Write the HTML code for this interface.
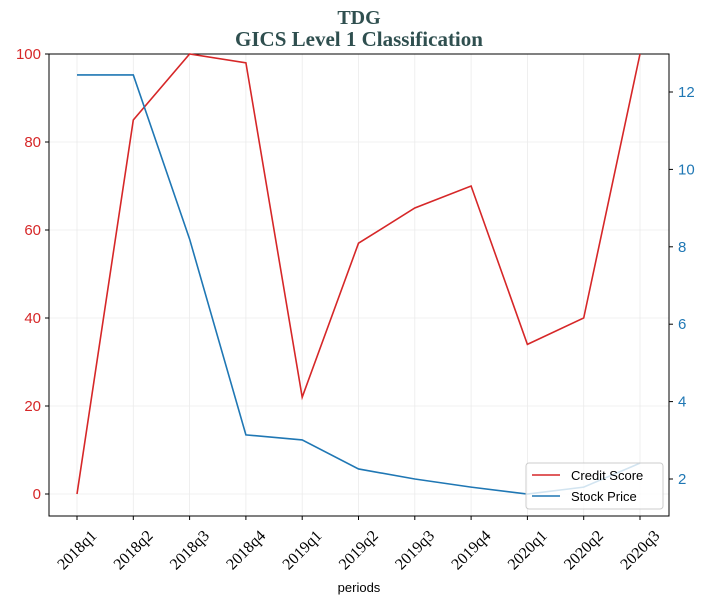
<!DOCTYPE html>
<html><head><meta charset="utf-8"><style>
body{margin:0;background:#fff;}
svg{display:block;font-family:"Liberation Sans",sans-serif;}
</style></head><body>
<svg id="c" width="707" height="605"></svg>
<script>
const categories=["2018q1","2018q2","2018q3","2018q4","2019q1","2019q2","2019q3","2019q4","2020q1","2020q2","2020q3"];
const creditScore=[0,85,100,98,22,57,65,70,34,40,100];
const stockPrice=[12.44,12.44,8.2,3.14,3.01,2.26,2.0,1.79,1.61,1.79,2.41];
const leftTicks=[0,20,40,60,80,100];
const rightTicks=[2,4,6,8,10,12];
const NS="http://www.w3.org/2000/svg";
const svg=document.getElementById('c');
const L=49,R=669,T=54,B=516;
const x=i=>77+i*(640-77)/(categories.length-1);
const yl=v=>494-v*4.4;
const yr=v=>479-(v-2)*38.7;
function el(tag,attrs,text){const e=document.createElementNS(NS,tag);for(const k in attrs)e.setAttribute(k,attrs[k]);if(text!==undefined)e.textContent=text;svg.appendChild(e);return e;}
let t;
t=el('text',{x:359,y:24,'text-anchor':'middle','font-family':'Liberation Serif,serif','font-weight':'bold','font-size':20,fill:'#2f4f4f'},'TDG');


t=el('text',{x:359,y:46,'text-anchor':'middle','font-family':'Liberation Serif,serif','font-weight':'bold','font-size':21,fill:'#2f4f4f'},'GICS Level 1 Classification');


categories.forEach((c,i)=>{const g=el('line',{x1:x(i),x2:x(i),y1:T,y2:B,stroke:'#ebebeb','stroke-width':0.8});

});
leftTicks.forEach(v=>{const g=el('line',{x1:L,x2:R,y1:yl(v),y2:yl(v),stroke:'#ebebeb','stroke-width':0.8});

});
const box=el('rect',{x:L,y:T,width:R-L,height:B-T,fill:'none',stroke:'#000','stroke-width':1});


leftTicks.forEach(v=>{el('line',{x1:L-4,x2:L,y1:yl(v),y2:yl(v),stroke:'#000'});
const s=el('text',{x:L-8,y:yl(v)+5,'text-anchor':'end','font-size':15,fill:'#d62728'},v);

});
rightTicks.forEach(v=>{el('line',{x1:R,x2:R+4,y1:yr(v),y2:yr(v),stroke:'#000'});
const s=el('text',{x:R+9,y:yr(v)+5,'font-size':15,fill:'#1f77b4'},v);

});
categories.forEach((c,i)=>{el('line',{x1:x(i),x2:x(i),y1:B,y2:B+4,stroke:'#000'});
const cx=x(i),cy=B+34;
const s=el('text',{x:cx,y:cy+5,'text-anchor':'middle','font-family':'Liberation Serif,serif','font-size':16,transform:`rotate(-45 ${cx} ${cy})`},c);

});
t=el('text',{x:359,y:592,'text-anchor':'middle','font-size':13},'periods');


const p1=el('polyline',{points:creditScore.map((v,i)=>x(i)+','+yl(v)).join(' '),fill:'none',stroke:'#d62728','stroke-width':1.6});


const p2=el('polyline',{points:stockPrice.map((v,i)=>x(i)+','+yr(v)).join(' '),fill:'none',stroke:'#1f77b4','stroke-width':1.6});


const lg=el('rect',{x:526,y:463,width:137,height:46,rx:3,fill:'#fff','fill-opacity':0.8,stroke:'#ccc'});


el('line',{x1:532,x2:560,y1:475,y2:475,stroke:'#d62728','stroke-width':1.6});
t=el('text',{x:571,y:480,'font-size':13},'Credit Score');


el('line',{x1:532,x2:560,y1:496,y2:496,stroke:'#1f77b4','stroke-width':1.6});
t=el('text',{x:571,y:501,'font-size':13},'Stock Price');


</script>
</body></html>
